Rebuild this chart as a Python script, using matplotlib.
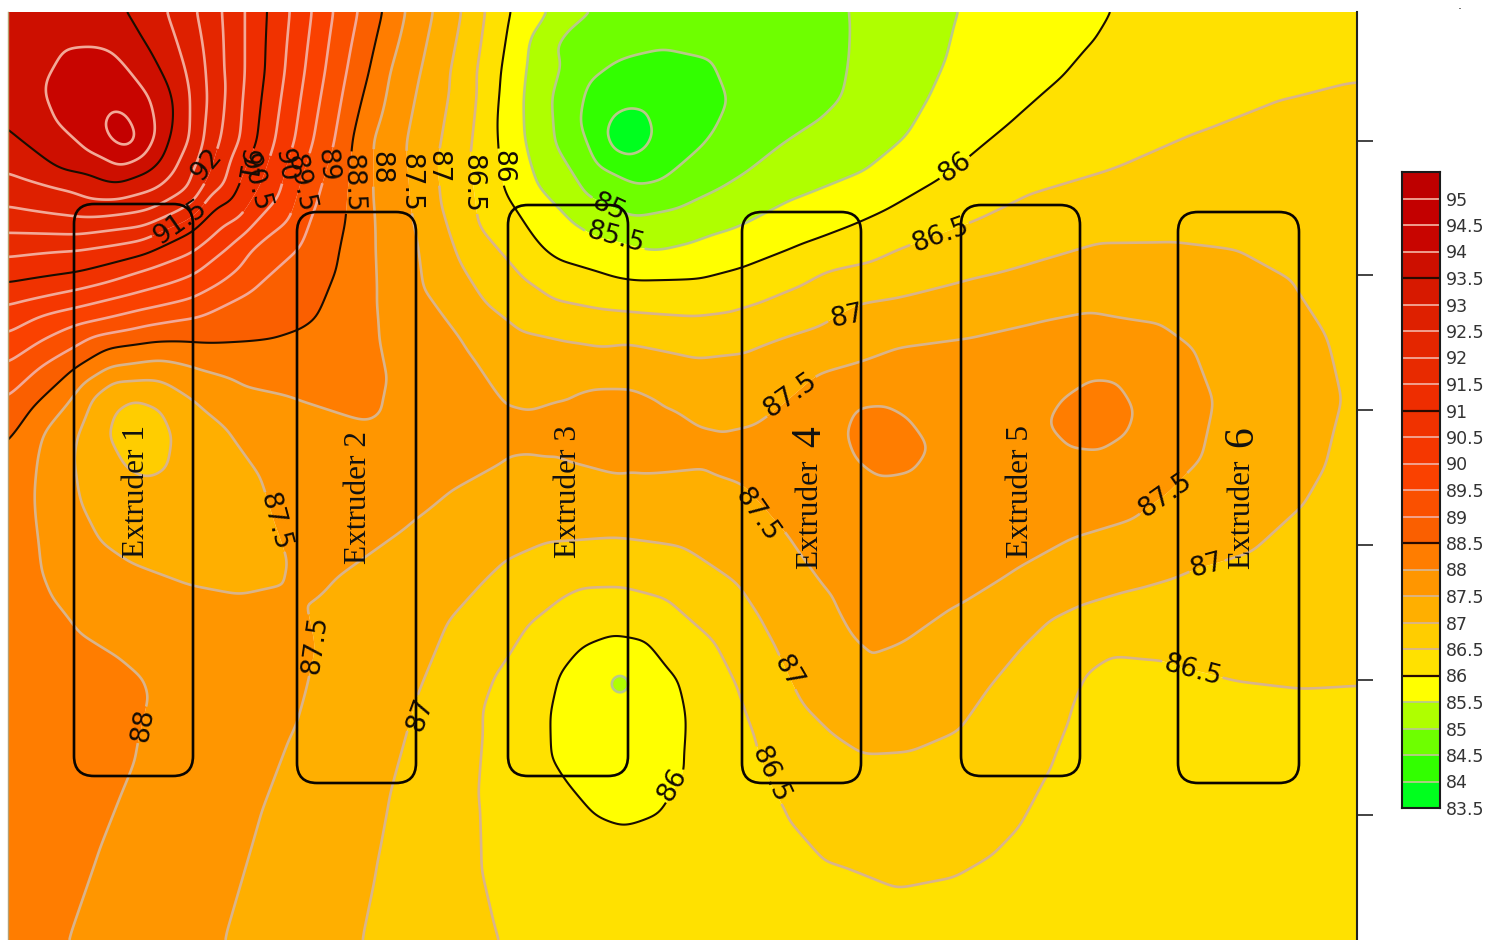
import numpy as np
import matplotlib
matplotlib.use("Agg")
import matplotlib.pyplot as plt
import matplotlib.tri as mtri
from matplotlib.colors import ListedColormap, BoundaryNorm
from matplotlib.patches import FancyBboxPatch

W, H = 1492, 940
X0, X1, Y0, Y1 = 8, 1357, 12, 940

# field readings: (x, y) positions along each iso-value
c94_5 = [(103,122),(113,109),(127,115),(138,133),(137,143),(127,150),(112,142)]
c94 = [(45,83),(63,50),(90,47),(123,63),(150,97),(157,133),(143,157),(120,167),(90,153),(57,123)]
c93_5 = [(128,12),(150,50),(170,90),(170,133),(147,173),(107,182),(60,170),(8,130)]
c93 = [(167,12),(183,60),(190,93),(190,140),(175,170),(160,187),(117,200),(67,190),(8,173)]
c92_5 = [(197,12),(205,60),(207,100),(203,140),(190,187),(150,210),(75,217),(8,207)]
c92 = [(222,12),(224,70),(220,140),(207,180),(193,203),(140,227),(75,235),(8,233)]
c91_5 = [(245,12),(245,70),(240,140),(225,185),(190,220),(143,240),(75,250),(8,257)]
c91 = [(267,12),(265,70),(257,140),(240,180),(215,207),(190,232),(150,252),(75,273),(8,283)]
c90_5 = [(290,12),(285,70),(275,140),(260,185),(240,218),(193,252),(150,268),(75,290),(8,305)]
c90 = [(312,12),(305,70),(295,140),(280,195),(233,243),(193,275),(140,292),(75,308),(8,333)]
c89_5 = [(333,12),(325,70),(313,140),(298,190),(250,250),(193,298),(140,310),(75,325),(8,363)]
c89 = [(358,12),(347,70),(335,140),(318,195),(300,245),(250,290),(193,318),(130,330),(75,347),(8,397)]
c88_5 = [(383,12),(368,75),(353,140),(348,190),(345,227),(337,267),(317,317),(297,330),(273,338),
         (193,342),(150,342),(110,347),(75,368),(33,407),(8,443)]
c88 = [(405,12),(388,75),(373,140),(372,190),(375,240),(377,300),(380,333),(390,383),(388,413),(373,423),
       (293,397),(197,368),(160,360),(110,367),(73,397),(43,433),(33,500),(40,567),(53,600),(77,630),
       (117,655),(143,677),(150,697),(137,753),(123,787),(97,853),(67,940)]
c88_eye_a = [(848,430),(857,407),(880,405),(907,420),(927,447),(910,470),(880,475),(857,457)]
c88_eye_b = [(1050,423),(1067,397),(1093,380),(1117,382),(1135,410),(1127,433),(1100,450),(1073,447)]
c87_5 = [(433,12),(420,75),(407,140),(410,190),(415,220),(433,300),(467,345),(503,399),(527,411),(573,392),
         (597,385),(632,385),(667,401),(702,427),(730,430),(755,425),(818,374),(864,361),(900,347),(967,338),
         (1033,323),(1090,312),(1160,323),(1193,347),(1213,400),(1200,460),(1165,495),(1133,520),(1077,537),
         (1017,570),(957,607),(910,640),(863,677),(857,640),(830,595),(790,540),(740,483),(700,470),(623,478),
         (557,460),(523,453),(507,460),(417,520),(333,580),(318,597),(315,645),(305,690),(293,733),(260,820),(225,940)]
c87_5_loop = [(77,483),(80,430),(92,397),(113,380),(160,380),(197,403),(227,427),(260,473),(275,520),(290,563),
              (283,583),(240,593),(187,583),(133,563),(100,540),(80,500)]
c87_eye = [(108,435),(115,410),(135,398),(160,408),(173,437),(168,465),(150,477),(125,465)]
c87 = [(462,12),(450,75),(437,165),(440,200),(450,232),(460,262),(485,303),(520,330),(573,342),(625,343),(695,358),
       (745,352),(818,327),(860,303),(900,297),(967,280),(1033,263),(1100,243),(1167,242),(1233,250),(1293,283),
       (1330,340),(1343,400),(1327,460),(1300,507),(1253,550),(1205,565),(1177,577),(1133,590),(1077,607),
       (1023,647),(990,687),(960,730),(913,750),(863,753),(833,733),(800,700),(773,643),(740,587),(680,547),
       (613,538),(547,543),(507,560),(483,583),(450,620),(417,700),(390,797),(377,867),(362,940)]
c86_5_top = [(485,12),(476,75),(470,165),(478,225),(510,262),(555,300),(643,313),(730,312),(800,286),(871,262),
             (899,249),(971,222),(1023,197),(1113,170),(1197,133),(1280,100),(1357,80)]
c86_5_low = [(497,940),(480,867),(478,800),(483,733),(507,660),(563,597),(620,587),(667,600),(713,640),(740,693),
             (757,740),(775,790),(790,817),(830,863),(897,890),(947,880),(990,855),(1017,827),(1047,770),(1067,720),
             (1087,673),(1113,655),(1160,660),(1192,671),(1233,682),(1300,690),(1357,687)]
c86 = [(510,12),(500,75),(497,120),(500,165),(510,199),(538,242),(590,269),(640,280),(703,278),(741,268),(800,245),
       (860,222),(933,183),(955,168),(980,147),(1025,110),(1063,77),(1090,45),(1110,12)]
c86_loop = [(613,632),(647,638),(677,677),(687,717),(683,757),(660,813),(623,827),(597,817),(563,777),(550,717),
            (560,673),(583,643)]
c85_5 = [(958,12),(947,57),(930,95),(906,137),(864,171),(783,204),(657,251),(615,240),(576,225),(538,186),(524,134),
         (527,60),(548,12)]
c85 = [(848,12),(845,60),(839,100),(818,120),(748,171),(678,208),(632,217),(608,205),(575,175),(555,143),(552,100),
       (563,60),(590,12)]
c84_5 = [(727,100),(710,137),(660,181),(639,185),(597,164),(580,120),(587,85),(620,60),(665,50),(710,60)]
c84 = [(604,134),(612,115),(628,107),(645,110),(653,130),(645,150),(628,158),(612,152)]

iso_readings = [(94.5,c94_5),(94,c94),(93.5,c93_5),(93,c93),(92.5,c92_5),(92,c92),(91.5,c91_5),(91,c91),
                (90.5,c90_5),(90,c90),(89.5,c89_5),(89,c89),(88.5,c88_5),(88,c88),(88,c88_eye_a),(88,c88_eye_b),
                (87.5,c87_5),(87.5,c87_5_loop),(87,c87_eye),(87,c87),(86.5,c86_5_top),(86.5,c86_5_low),
                (86,c86),(86,c86_loop),(85.5,c85_5),(85,c85),(84.5,c84_5),(84,c84)]

# readings between the iso-values: corners, edges, peaks and troughs
spot_readings = [(8,12,93.8),(50,12,93.7),(655,12,84.7),(750,12,84.7),(1250,12,86.2),(1357,12,86.2),
    (8,500,88.3),(8,600,88.3),(8,800,88.3),(8,940,88.3),(1357,250,86.8),(1357,400,86.9),(1357,550,86.8),
    (1357,800,86.2),(1357,940,86.2),(700,940,86.2),(900,940,86.2),(1100,940,86.2),
    (120,130,94.8),(138,437,86.6),(628,133,83.7),(885,440,88.3),(1095,415,88.3),(620,684,84.2),
    (620,760,85.8),(580,720,85.8),(650,720,85.8),
    (302,570,87.65),(305,520,87.8),(300,460,87.8),(230,640,87.7),(200,750,87.7),(180,850,87.7),
    (450,430,87.8),(530,432,87.6),(600,435,87.65),(690,448,87.6),(740,455,87.65),(780,450,87.75),(840,520,87.8),
    (900,560,87.7),(860,630,87.6),(950,540,87.8),(1020,500,87.8),(1100,490,87.75),(1170,430,87.7),
    (1000,380,87.8),(1150,350,87.65),(800,420,87.7),(930,380,87.8),(985,440,87.8),
    (250,370,88.2),(330,370,88.2),(350,350,88.1),
    (345,470,87.7),(385,470,87.7),(440,470,87.65),
    (1113,690,86.3),(1160,695,86.3),(1200,705,86.3),(1260,720,86.3),(1320,730,86.3)]
mid_86_75 = [(430,940),(428,867),(435,800),(450,720),(475,650),(520,600),(565,565),(620,562),(680,575),(730,625),
             (765,700),(790,760),(830,800),(900,820),(960,800),(1005,750),(1030,690),(1060,650),(1110,625),(1180,620),
             (1260,620),(1330,560),(458,200),(465,100),(485,265),(515,296),(600,328),(690,335),(770,320),(840,285),
             (900,273),(1000,245),(1100,205),(1200,190),(1300,170),(1340,280),(473,12)]
mid_87_25 = [(435,75),(422,160),(425,220),(447,280),(475,325),(510,365),(560,368),(625,365),(700,392),(755,390),
             (800,355),(900,322),(1000,300),(1090,278),(1170,283),(1260,320),(1290,400),(1270,470),(1220,520),(1130,555),
             (1040,590),(980,640),(920,690),(870,715),(820,660),(790,610),(745,530),(680,510),(615,508),(540,505),
             (470,525),(400,600),(370,660),(340,780),(300,940),(92,440),(140,389),(190,440),(200,500),(250,560),
             (190,550),(120,520),(220,510),(448,12)]
mid_87_75 = [(390,140),(404,75),(390,200),(400,300),(410,400),(105,600),(220,700),(190,800),(150,900),(270,670),(419,12),
             (55,470),(58,530)]
mid_88_25 = [(350,300),(360,230),(360,140),(380,75),(394,12),(20,450),(20,500),(20,560),(60,700),(70,800),(40,900)]
mid_86_25 = [(1100,100),(1200,60),(1000,180),(850,250),(700,298),(600,290),(530,260),(490,180),(490,75),(498,12),
             (535,650),(600,610),(650,615),(700,660),(715,720),(710,790),(680,850),(610,860),(560,830),(520,770),(515,700)]
mid_85_85 = [(575,690),(665,690),(670,760),(640,800),(600,795),(570,750),(620,669),(635,684),(620,699),(605,684)]
mid_85_75 = [(510,100),(515,190),(560,240),(640,268),(760,240),(880,190),(960,120),(1020,40),(1030,12),(530,12),(990,60)]
mid_85_25 = [(537,100),(545,160),(600,222),(720,212),(850,150),(895,80),(903,12),(540,50),(565,12)]
mid_84_75 = [(565,100),(590,180),(640,200),(720,165),(780,115),(830,60),(800,12),(570,50)]
mid_93_75 = [(30,100),(120,40),(165,110),(140,165),(95,165),(55,145),(30,60)]
mid_94_25 = [(80,70),(125,90),(60,90),(85,125),(100,60),(145,130),(100,145)]
mid_readings = [(86.75,mid_86_75),(87.25,mid_87_25),(87.75,mid_87_75),(88.25,mid_88_25),(86.25,mid_86_25),
                (85.85,mid_85_85),(85.75,mid_85_75),(85.25,mid_85_25),(84.75,mid_84_75),(93.75,mid_93_75),(94.25,mid_94_25)]

band_edges = [83.5,84,84.5,85,85.5,86,86.5,87,87.5,88,88.5,89,89.5,90,90.5,91,91.5,92,92.5,93,93.5,94,94.5,95,95.5]
band_colors = ['#00ff1e','#32ff00','#6eff00','#afff00','#ffff00','#ffe100','#ffcd00','#ffaf00','#ff9600','#ff7d00',
               '#fa5f00','#fa5000','#fa4100','#f53700','#f03200','#ee2d00','#e82a00','#e42600','#de2000','#d71900',
               '#cd0f00','#c80500','#c30000','#be0000']
black_levels = [86,88.5,91,93.5]
colorbar_labels = ['95','94.5','94','93.5','93','92.5','92','91.5','91','90.5','90','89.5','89','88.5','88','87.5',
                   '87','86.5','86','85.5','85','84.5','84','83.5']
axis_ticks = [141,275,410,545,680,815]

# label text, position, rotation
contour_labels = [(92,207,165,50),(91.5,180,222,35),(91,245,165,-100),(90.5,255,183,-75),(90,285,165,-80),
    (89.5,300,183,-78),(89,327,165,-85),(88.5,352,183,-88),(88,380,168,-90),(87.5,410,182,-90),(87,437,167,-90),
    (86.5,472,183,-90),(86,502,167,-90),(85,608,208,-25),(85.5,615,238,-15),(86,955,168,35),(86.5,940,235,20),
    (87,847,317,12),(87.5,790,395,35),(87.5,275,522,-75),(87.5,315,645,82),(87,420,715,70),(88,143,725,80),
    (86,673,785,60),(87.5,757,515,-55),(87,788,672,-60),(86.5,770,775,-65),(87.5,1165,495,35),(87,1207,566,15),
    (86.5,1192,671,-15)]

extruder_boxes = [(74,193,204,776),(297,416,212,783),(508,628,205,776),(742,861,212,783),(961,1080,205,776),(1178,1299,212,783)]
extruder_names = ['Extruder 1','Extruder 2','Extruder 3','Extruder','Extruder 5','Extruder']
extruder_text_xy = [(136,491),(358,497),(569,491),(810,514),(1021,491),(1242,514)]
extruder_big = [None,None,None,('4',810,437),None,('6',1242,437)]

px = []; py = []; pz = []
for level, pts in iso_readings + mid_readings:
    for x, y in pts:
        px.append(x); py.append(y); pz.append(level)
for x, y, z in spot_readings:
    px.append(x); py.append(y); pz.append(z)
px, py, pz = map(np.array, (px, py, pz))

fig = plt.figure(figsize=(W/100, H/100), dpi=100, facecolor='white')
ax = fig.add_axes([X0/W, 1-Y1/H, (X1-X0)/W, (Y1-Y0)/H])
tri = mtri.Triangulation(px, py)
gx = np.arange(X0, X1+1, 2.0)
gy = np.arange(Y0, Y1+1, 2.0)
GX, GY = np.meshgrid(gx, gy)
field = np.ma.filled(mtri.LinearTriInterpolator(tri, pz)(GX, GY), np.nan)
field = np.where(np.isnan(field), np.nanmean(field), field)
# soften the straight chords between the readings
half = 12
kernel = np.exp(-0.5*(np.arange(-half, half+1)*2.0/7.0)**2)
kernel /= kernel.sum()
padded = np.pad(field, half, mode='edge')
padded = np.apply_along_axis(lambda r: np.convolve(r, kernel, mode='same'), 0, padded)
padded = np.apply_along_axis(lambda r: np.convolve(r, kernel, mode='same'), 1, padded)
field = padded[half:-half, half:-half]

cmap = ListedColormap(band_colors)
norm = BoundaryNorm(band_edges, cmap.N)
ax.contourf(gx, gy, field, levels=band_edges, cmap=cmap, norm=norm, antialiased=True)

line_levels = band_edges[1:-2]
def line_color(v):
    if v in black_levels: return '#1a0d00'
    if v >= 89: return '#f2a998'
    if v >= 86.5: return '#d9b48c'
    return '#b9c98a'
sets = {}
for v in line_levels:
    sets[v] = ax.contour(gx, gy, field, levels=[v], colors=[line_color(v)],
                         linewidths=1.5 if v in black_levels else 1.9)

for level, x, y, rot in contour_labels:
    cs = sets[level]
    ax.clabel(cs, levels=[level], manual=[(x, y)], inline=True, inline_spacing=2, fontsize=19, colors='#150c05', fmt='%g')
    t = cs.labelTexts[-1]
    t.set_position((x, y)); t.set_rotation(rot); t.set_rotation_mode('anchor')
    t.set_ha('center'); t.set_va('center')

for (x0, x1, y0, y1) in extruder_boxes:
    r = 20
    ax.add_patch(FancyBboxPatch((x0+r, y0+r), x1-x0-2*r, y1-y0-2*r, boxstyle=f'round,pad={r},rounding_size={r}',
                                fc='none', ec='#0a0500', lw=1.9, zorder=5))
for name, (x, y), big in zip(extruder_names, extruder_text_xy, extruder_big):
    ax.text(x, y, name, rotation=90, ha='center', va='center', family='Liberation Serif', fontsize=22.5, color='#111', zorder=6)
    if big:
        ax.text(big[1], big[2], big[0], rotation=90, ha='center', va='center', family='Liberation Serif', fontsize=30, color='#111', zorder=6)

ax.set_xlim(X0, X1); ax.set_ylim(Y1, Y0)
ax.set_xticks([])
ax.yaxis.tick_right()
ax.set_yticks(axis_ticks); ax.set_yticklabels([])
ax.tick_params(axis='y', length=11.5, width=1.2, color='#222')
for s in ['top','bottom']:
    ax.spines[s].set_visible(False)
ax.spines['right'].set_linewidth(1.5); ax.spines['right'].set_color('#222')
ax.spines['left'].set_linewidth(1.0); ax.spines['left'].set_color('#b8a070')

cax = fig.add_axes([1402/W, 1-808/H, 38/W, (808-172)/H])
cax.pcolormesh([0,1], band_edges, np.arange(len(band_colors)).reshape(-1,1), cmap=ListedColormap(band_colors),
               vmin=-0.5, vmax=len(band_colors)-0.5)
for v in band_edges[1:-1]:
    cax.axhline(v, color='#2a0a00' if v in black_levels else line_color(v), lw=1.6 if v in black_levels else 1.3)
cax.set_xlim(0,1); cax.set_ylim(83.5,95.5); cax.set_xticks([])
cax.yaxis.tick_right()
tick_vals = [float(s) for s in colorbar_labels]
cax.set_yticks(tick_vals); cax.set_yticklabels(colorbar_labels, fontsize=12.5, color='#333')
cax.tick_params(axis='y', length=0, pad=4)
for s in cax.spines.values():
    s.set_linewidth(1.5); s.set_color('#1a1a1a')
fig.text(1460/W, 1-9/H, '.', fontsize=9, color='#222', ha='center', va='baseline')
fig.savefig('out.png', dpi=100)
